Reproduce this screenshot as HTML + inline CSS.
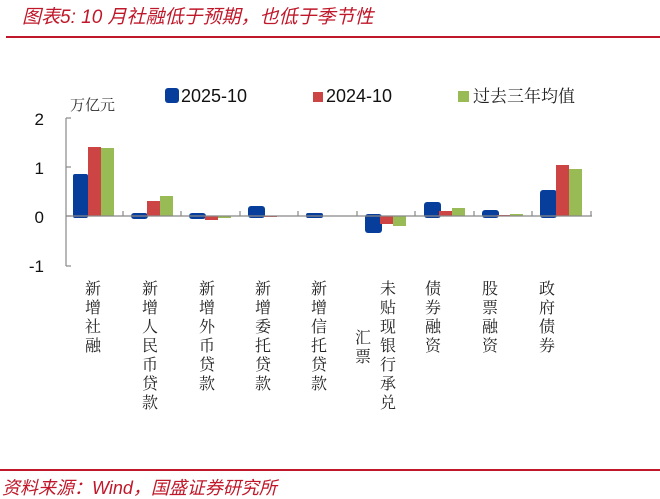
<!DOCTYPE html>
<html><head><meta charset="utf-8"><style>
body{margin:0;background:#fff;width:660px;height:499px;overflow:hidden}
svg{display:block}
</style></head><body>
<svg width="660" height="499" viewBox="0 0 660 499" xmlns="http://www.w3.org/2000/svg">
<text x="22" y="23" font-family="Liberation Sans,'Noto Sans CJK SC',sans-serif" font-size="19" font-style="italic" fill="#c0182a">图表5:  10 月社融低于预期，也低于季节性</text>
<rect x="6" y="36" width="654" height="2" fill="#c0182a"/>
<rect x="0" y="469" width="660" height="2" fill="#c0182a"/>
<text x="2" y="494" font-family="Liberation Sans,'Noto Sans CJK SC',sans-serif" font-size="18" font-style="italic" fill="#c0182a">资料来源：Wind，国盛证券研究所</text>

<rect x="165" y="88" width="14" height="15" rx="3" fill="#073e9c"/>
<text x="181" y="102" font-family="Liberation Sans,sans-serif" font-size="18" fill="#111">2025-10</text>
<rect x="313" y="92" width="10" height="10" fill="#cc4444"/>
<text x="326" y="102" font-family="Liberation Sans,sans-serif" font-size="18" fill="#111">2024-10</text>
<rect x="458" y="91" width="11" height="11" fill="#99bb55"/>
<text x="473" y="102" font-family="'Noto Serif CJK SC',serif" font-size="17" fill="#222">过去三年均值</text>
<text x="70" y="110" font-family="'Noto Serif CJK SC',serif" font-size="15" fill="#333">万亿元</text>

<g font-family="Liberation Sans,sans-serif" font-size="17" fill="#111" text-anchor="end">
<text x="44" y="125">2</text><text x="44" y="174">1</text><text x="44" y="223">0</text><text x="44" y="272">-1</text>
</g>
<g stroke="#888" stroke-width="1.2">
<line x1="66" y1="118" x2="66" y2="266"/>
<line x1="66" y1="118" x2="71" y2="118"/><line x1="66" y1="167" x2="71" y2="167"/>
<line x1="66" y1="216" x2="71" y2="216"/><line x1="66" y1="266" x2="71" y2="266"/>
</g>

<g>
<rect x="73" y="174" width="15" height="44" rx="2" fill="#073e9c"/>
<rect x="88" y="147" width="13" height="69" fill="#cc4444"/>
<rect x="101" y="148" width="13" height="68" fill="#99bb55"/>
<rect x="131" y="213" width="17" height="6" rx="3" fill="#073e9c"/>
<rect x="147" y="201" width="13" height="15" fill="#cc4444"/>
<rect x="160" y="196" width="13" height="20" fill="#99bb55"/>
<rect x="189" y="213" width="17" height="6" rx="3" fill="#073e9c"/>
<rect x="205" y="216" width="13" height="4" fill="#cc4444"/>
<rect x="218" y="216" width="13" height="2" fill="#99bb55"/>
<rect x="248" y="206" width="17" height="12" rx="3" fill="#073e9c"/>
<rect x="264" y="216" width="13" height="1" fill="#cc4444"/>
<rect x="306" y="213" width="17" height="5" rx="2" fill="#073e9c"/>
<rect x="365" y="214" width="17" height="19" rx="3" fill="#073e9c"/>
<rect x="380" y="216" width="13" height="8" fill="#cc4444"/>
<rect x="393" y="216" width="13" height="10" fill="#99bb55"/>
<rect x="424" y="202" width="17" height="16" rx="3" fill="#073e9c"/>
<rect x="439" y="211" width="13" height="5" fill="#cc4444"/>
<rect x="452" y="208" width="13" height="8" fill="#99bb55"/>
<rect x="482" y="210" width="17" height="8" rx="3" fill="#073e9c"/>
<rect x="497" y="215" width="13" height="1" fill="#cc4444"/>
<rect x="510" y="214" width="13" height="2" fill="#99bb55"/>
<rect x="540" y="190" width="17" height="28" rx="3" fill="#073e9c"/>
<rect x="556" y="165" width="13" height="51" fill="#cc4444"/>
<rect x="569" y="169" width="13" height="47" fill="#99bb55"/>
</g>
<g stroke="#888" stroke-width="1.2">
<line x1="66" y1="216" x2="592" y2="216"/>
<line x1="123" y1="211" x2="123" y2="216"/><line x1="181" y1="211" x2="181" y2="216"/>
<line x1="240" y1="211" x2="240" y2="216"/><line x1="298" y1="211" x2="298" y2="216"/>
<line x1="357" y1="211" x2="357" y2="216"/><line x1="415" y1="211" x2="415" y2="216"/>
<line x1="474" y1="211" x2="474" y2="216"/><line x1="532" y1="211" x2="532" y2="216"/>
<line x1="591" y1="211" x2="591" y2="216"/>
</g>

<g font-family="'Noto Serif CJK SC',serif" font-size="16" fill="#222" text-anchor="middle">
<g transform="translate(93,0)"><text y="294">新</text><text y="313">增</text><text y="332">社</text><text y="351">融</text></g>
<g transform="translate(150,0)"><text y="294">新</text><text y="313">增</text><text y="332">人</text><text y="351">民</text><text y="370">币</text><text y="389">贷</text><text y="408">款</text></g>
<g transform="translate(207,0)"><text y="294">新</text><text y="313">增</text><text y="332">外</text><text y="351">币</text><text y="370">贷</text><text y="389">款</text></g>
<g transform="translate(263,0)"><text y="294">新</text><text y="313">增</text><text y="332">委</text><text y="351">托</text><text y="370">贷</text><text y="389">款</text></g>
<g transform="translate(319,0)"><text y="294">新</text><text y="313">增</text><text y="332">信</text><text y="351">托</text><text y="370">贷</text><text y="389">款</text></g>
<g transform="translate(363,0)"><text y="343">汇</text><text y="362">票</text></g>
<g transform="translate(388,0)"><text y="294">未</text><text y="313">贴</text><text y="332">现</text><text y="351">银</text><text y="370">行</text><text y="389">承</text><text y="408">兑</text></g>
<g transform="translate(433,0)"><text y="294">债</text><text y="313">券</text><text y="332">融</text><text y="351">资</text></g>
<g transform="translate(490,0)"><text y="294">股</text><text y="313">票</text><text y="332">融</text><text y="351">资</text></g>
<g transform="translate(547,0)"><text y="294">政</text><text y="313">府</text><text y="332">债</text><text y="351">券</text></g>
</g>
</svg>
</body></html>
